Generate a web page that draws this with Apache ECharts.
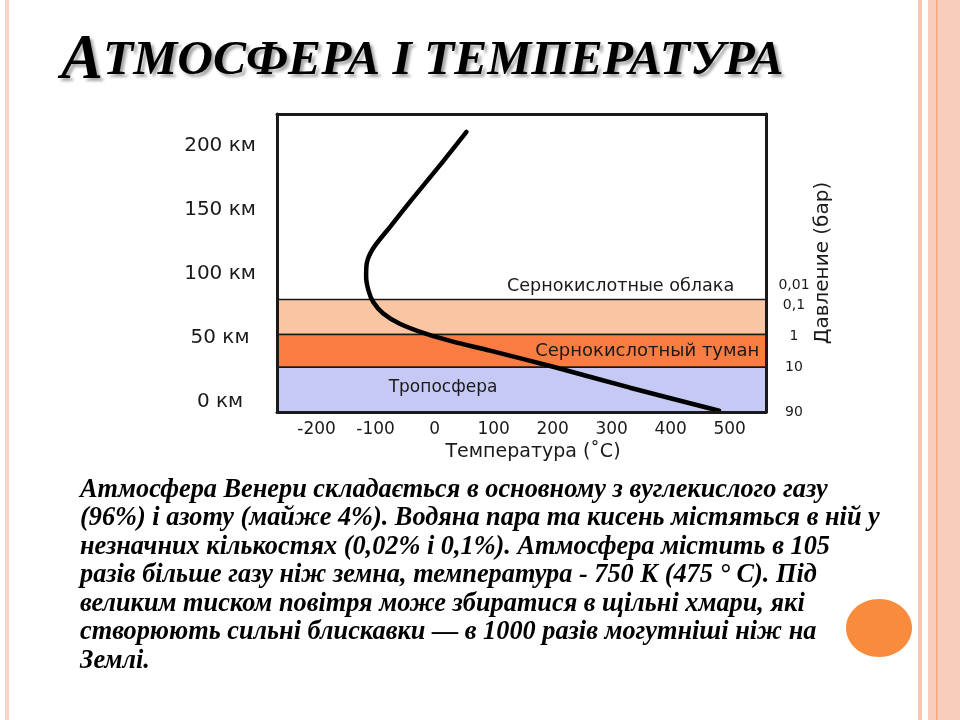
<!DOCTYPE html>
<html><head><meta charset="utf-8">
<script src="https://cdn.jsdelivr.net/npm/echarts@6/dist/echarts.min.js"></script>
<style>html,body{margin:0;padding:0;background:#fff}#c{width:960px;height:720px}</style>
</head><body><div id="c"></div>
<script>
// Temperature profile (°C) vs altitude (km)
const temperature = [54, 11, -37, -75, -104, -115, -116, -112, -104, -87, -59, -14, 31, 94, 204, 331, 482];
const altitude    = [211, 186, 159, 137, 120, 108, 98, 87, 78, 69, 61, 53, 47, 40, 27, 11, -7];
// Axis ticks
const altitudeTicks = [0, 50, 100, 150, 200];
const temperatureTicks = [-200, -100, 0, 100, 200, 300, 400, 500];
const pressureLabels = ['0,01', '0,1', '1', '10', '90'];
const pressureAltitudes = [91, 75, 51, 27, -8];
// Layers
const layerNames = ['Сернокислотные облака', 'Сернокислотный туман', 'Тропосфера'];
const layerBottoms = [52.5, 27, -8];
const layerTops = [80, 52.5, 27];
const layerColors = ['#F9C5A2', '#F97C42', '#C5C9F3'];
// Text
const titleFirst = 'А';
const titleRest = 'ТМОСФЕРА І ТЕМПЕРАТУРА';
const paragraph = [
  'Атмосфера Венери складається в основному з вуглекислого газу',
  '(96%) і азоту (майже 4%). Водяна пара та кисень містяться в ній у',
  'незначних кількостях (0,02% і 0,1%). Атмосфера містить в 105',
  'разів більше газу ніж земна, температура - 750 К (475 ° С). Під',
  'великим тиском повітря може збиратися в щільні хмари, які',
  'створюють сильні блискавки — в 1000 разів могутніші ніж на',
  'Землі.'
];

const FONT = 'DejaVu Sans';
const INK = '#1a1a1a';
const chart = echarts.init(document.getElementById('c'));

const labelPos = [
  {position: ['70.2%', -12], align: 'center', verticalAlign: 'middle', fontSize: 17.6},
  {position: ['98.5%', '50%'], align: 'right', verticalAlign: 'middle', fontSize: 18},
  {position: ['34%', '45%'], align: 'center', verticalAlign: 'middle', fontSize: 17}
];
const areas = layerNames.map((n, i) => [
  {yAxis: layerBottoms[i], name: n,
   itemStyle: {color: layerColors[i], borderColor: INK, borderWidth: 1.5},
   label: Object.assign({show: true, formatter: n, color: INK, fontFamily: FONT}, labelPos[i])},
  {yAxis: layerTops[i]}
]);

const shadow = {textShadowColor: 'rgba(0,0,0,0.35)', textShadowBlur: 3, textShadowOffsetX: 3, textShadowOffsetY: 3};
const graphics = [
  {type: 'rect', shape: {x: 5, y: 0, width: 4, height: 720}, style: {fill: '#F9D3C4'}, silent: true},
  {type: 'rect', shape: {x: 918, y: 0, width: 4, height: 720}, style: {fill: '#F8C6B3'}, silent: true},
  {type: 'rect', shape: {x: 928, y: 0, width: 32, height: 720}, style: {fill: '#F9CDBB'}, silent: true},
  {type: 'rect', shape: {x: 936, y: 0, width: 1.5, height: 720}, style: {fill: '#F3A682'}, silent: true},
  {type: 'ellipse', shape: {cx: 879, cy: 628, rx: 33, ry: 29}, style: {fill: '#F98B3D'}, silent: true},
  {type: 'text', x: 61, y: 93, silent: true,
   style: {text: '{a|' + titleFirst + '}{b|' + titleRest + '}', verticalAlign: 'bottom', align: 'left',
     rich: {
       a: Object.assign({fontFamily: 'Liberation Serif', fontWeight: 'bold', fontStyle: 'italic', fontSize: 63, fill: '#000'}, shadow),
       b: Object.assign({fontFamily: 'Liberation Serif', fontWeight: 'bold', fontStyle: 'italic', fontSize: 49.5, fill: '#000'}, shadow)
     }}}
];
paragraph.forEach((line, i) => {
  graphics.push({type: 'text', x: 80, y: 490 + i * 28.5, silent: true,
    style: {text: line, fontFamily: 'Liberation Serif', fontWeight: 'bold', fontStyle: 'italic',
      fontSize: 26.3, fill: '#000', align: 'left', verticalAlign: 'middle'}});
});

const axisLineStyle = {show: true, onZero: false, lineStyle: {color: INK, width: 3}};
chart.setOption({
  animation: false,
  backgroundColor: '#fff',
  grid: {left: 277, right: 194, top: 114, bottom: 308},
  graphic: graphics,
  xAxis: [
    {type: 'value', position: 'bottom', min: -267, max: 561.5, z: 10,
     axisLine: axisLineStyle, axisTick: {show: false}, splitLine: {show: false},
     axisLabel: {customValues: temperatureTicks, color: INK, fontFamily: FONT, fontSize: 17, margin: 9},
     name: 'Температура (˚C)', nameLocation: 'middle', nameGap: 31, nameMoveOverlap: false,
     nameTextStyle: {color: INK, fontFamily: FONT, fontSize: 19, padding: [0, 0, 0, 23]}},
    {type: 'value', position: 'top', min: -267, max: 561.5, z: 10,
     axisLine: axisLineStyle, axisTick: {show: false}, splitLine: {show: false}, axisLabel: {show: false}}
  ],
  yAxis: [
    {type: 'value', position: 'left', min: -8, max: 225, z: 10,
     axisLine: axisLineStyle, axisTick: {show: false}, splitLine: {show: false},
     axisLabel: {customValues: altitudeTicks, formatter: v => v + ' км', color: INK, fontFamily: FONT,
       fontSize: 20, align: 'center', margin: 57}},
    {type: 'value', position: 'right', min: -8, max: 225, z: 10,
     axisLine: axisLineStyle, axisTick: {show: false}, splitLine: {show: false},
     axisLabel: {customValues: pressureAltitudes,
       formatter: v => pressureLabels[pressureAltitudes.indexOf(v)],
       color: INK, fontFamily: FONT, fontSize: 14, align: 'center', margin: 28},
     name: 'Давление (бар)', nameLocation: 'middle', nameRotate: 90, nameGap: 47, nameMoveOverlap: false,
     nameTextStyle: {color: INK, fontFamily: FONT, fontSize: 20}}
  ],
  series: [
    {type: 'line', data: [], z: 1, markArea: {silent: true, data: areas}},
    {type: 'line', z: 5, data: temperature.map((t, i) => [t, altitude[i]]),
     smooth: 0.3, symbol: 'none', lineStyle: {color: '#000', width: 4.5, cap: 'round'}}
  ]
});
</script></body></html>
